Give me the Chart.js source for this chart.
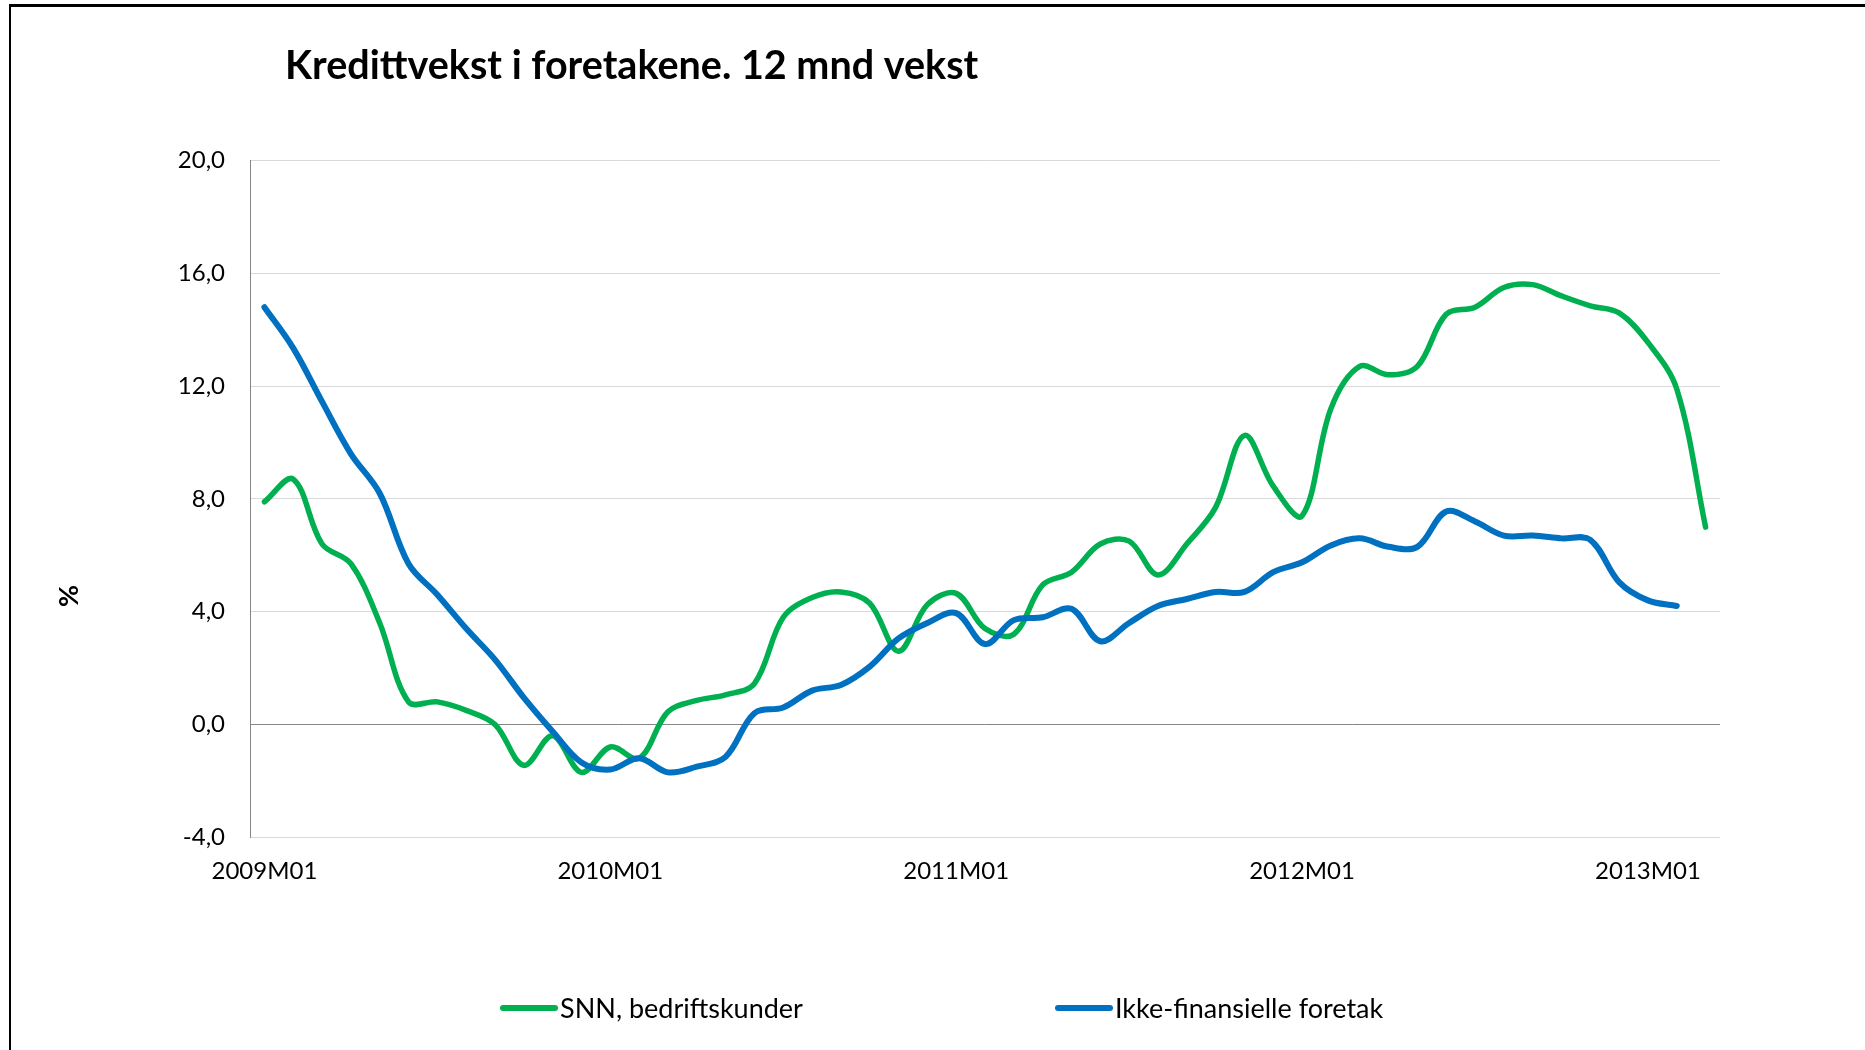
<!DOCTYPE html>
<html>
<head>
<meta charset="utf-8">
<script src="https://cdn.jsdelivr.net/npm/chart.js@4.4.1/dist/chart.umd.min.js"></script>
<style>
  html, body { margin: 0; padding: 0; background: #fff; }
  #wrap { position: relative; width: 1865px; height: 1050px; overflow: hidden; }
  #frame { position: absolute; left: 9px; top: 4px; width: 1900px; height: 1100px;
           border-top: 3px solid #000; border-left: 2px solid #000; pointer-events: none; }
  canvas { position: absolute; left: 0; top: 0; }
</style>
</head>
<body>
<div id="wrap">
  <canvas id="chart" width="1865" height="1050"></canvas>
  <div id="frame"></div>
</div>
<script>
var titleText = 'Kredittvekst i foretakene. 12 mnd vekst'
var yAxisTitle = '%'

var months = [
  '2009M01','2009M02','2009M03','2009M04','2009M05','2009M06','2009M07','2009M08','2009M09','2009M10','2009M11','2009M12',
  '2010M01','2010M02','2010M03','2010M04','2010M05','2010M06','2010M07','2010M08','2010M09','2010M10','2010M11','2010M12',
  '2011M01','2011M02','2011M03','2011M04','2011M05','2011M06','2011M07','2011M08','2011M09','2011M10','2011M11','2011M12',
  '2012M01','2012M02','2012M03','2012M04','2012M05','2012M06','2012M07','2012M08','2012M09','2012M10','2012M11','2012M12',
  '2013M01','2013M02','2013M03'
]

// SNN, bedriftskunder
var snn = [
  7.9, 8.7, 6.4, 5.7, 3.6, 0.8, 0.8, 0.5, 0.0, -1.45, -0.4, -1.7,
  -0.8, -1.2, 0.45, 0.85, 1.05, 1.45, 3.8, 4.5, 4.7, 4.3, 2.6, 4.25,
  4.65, 3.4, 3.2, 4.95, 5.4, 6.4, 6.5, 5.3, 6.4, 7.7, 10.25, 8.45,
  7.4, 11.2, 12.7, 12.4, 12.7, 14.55, 14.8, 15.5, 15.6, 15.2, 14.85, 14.6,
  13.55, 11.9, 7.0
]

// Ikke-finansielle foretak
var ikkeFin = [
  14.8, 13.35, 11.45, 9.6, 8.2, 5.7, 4.6, 3.4, 2.3, 0.95, -0.25, -1.35,
  -1.6, -1.2, -1.7, -1.5, -1.15, 0.4, 0.6, 1.2, 1.4, 2.05, 3.05, 3.6,
  3.95, 2.85, 3.7, 3.8, 4.1, 2.95, 3.6, 4.2, 4.45, 4.7, 4.7, 5.4,
  5.75, 6.35, 6.6, 6.3, 6.3, 7.55, 7.2, 6.7, 6.7, 6.6, 6.55, 5.05,
  4.4, 4.2, null
]

var yTicks = [-4, 0, 4, 8, 12, 16, 20]

var green = '#00B050'
var blue = '#0070C0'
var fontName = 'Lato, "Open Sans", sans-serif'

// titel, y-akse-tittel og forklaring tegnes på lerretet
var overlayText = {
  id: 'overlayText',
  afterDraw: function(chart) {
    var ctx = chart.ctx
    ctx.save()
    ctx.fillStyle = '#000'
    ctx.textBaseline = 'alphabetic'
    ctx.textAlign = 'left'
    ctx.font = 'bold 39.5px ' + fontName
    ctx.fillText(titleText, 285, 79)

    ctx.save()
    ctx.translate(69, 596)
    ctx.rotate(-Math.PI / 2)
    ctx.textAlign = 'center'
    ctx.textBaseline = 'middle'
    ctx.font = 'bold 27px ' + fontName
    ctx.fillText(yAxisTitle, 0, 0)
    ctx.restore()

    // forklaring
    var legendX = [503, 1058]
    ctx.font = '27px ' + fontName
    chart.data.datasets.forEach(function(ds, i) {
      var x = legendX[i]
      ctx.strokeStyle = ds.borderColor
      ctx.lineWidth = 6
      ctx.lineCap = 'round'
      ctx.beginPath()
      ctx.moveTo(x, 1008)
      ctx.lineTo(x + 52, 1008)
      ctx.stroke()
      ctx.fillText(ds.label, x + 57, 1017.5)
    })
    ctx.restore()
  }
}

var ctx = document.getElementById('chart').getContext('2d')

var myChart = new Chart(ctx, {
  type: 'line',
  data: {
    labels: months,
    datasets: [{
      label: 'SNN, bedriftskunder',
      data: snn,
      borderColor: green,
      backgroundColor: green,
      borderWidth: 5.5,
      order: 1
    }, {
      label: 'Ikke-finansielle foretak',
      data: ikkeFin,
      borderColor: blue,
      backgroundColor: blue,
      borderWidth: 6,
      order: 0
    }]
  },
  options: {
    responsive: false,
    animation: false,
    layout: {
      padding: { left: 100, right: 145, top: 160.6, bottom: 152.8 }
    },
    elements: {
      point: { radius: 0, hoverRadius: 0 },
      line: { tension: 0.35, borderCapStyle: 'round', borderJoinStyle: 'round', fill: false }
    },
    plugins: {
      legend: { display: false },
      title: { display: false },
      tooltip: { enabled: false }
    },
    scales: {
      x: {
        type: 'category',
        offset: true,
        grid: { display: false, drawTicks: false },
        border: { display: false },
        ticks: {
          autoSkip: false,
          maxRotation: 0,
          minRotation: 0,
          padding: 20,
          color: '#000',
          font: { family: fontName, size: 24 },
          callback: function(value, index) {
            return index % 12 === 0 ? months[index] : null
          }
        },
        afterFit: function(scale) { scale.height = 60 }
      },
      y: {
        min: -4,
        max: 20,
        afterBuildTicks: function(scale) {
          scale.ticks = yTicks.map(function(v) { return { value: v } })
        },
        grid: {
          drawTicks: false,
          lineWidth: 1,
          color: function(c) { return c.tick && c.tick.value === 0 ? '#868686' : '#d9d9d9' }
        },
        border: { display: true, color: '#868686', width: 1 },
        ticks: {
          padding: 25,
          color: '#000',
          font: { family: fontName, size: 24 },
          callback: function(v) { return v.toFixed(1).replace('.', ',') }
        },
        afterFit: function(scale) { scale.width = 150 }
      }
    }
  },
  plugins: [overlayText]
})
</script>
</body>
</html>
